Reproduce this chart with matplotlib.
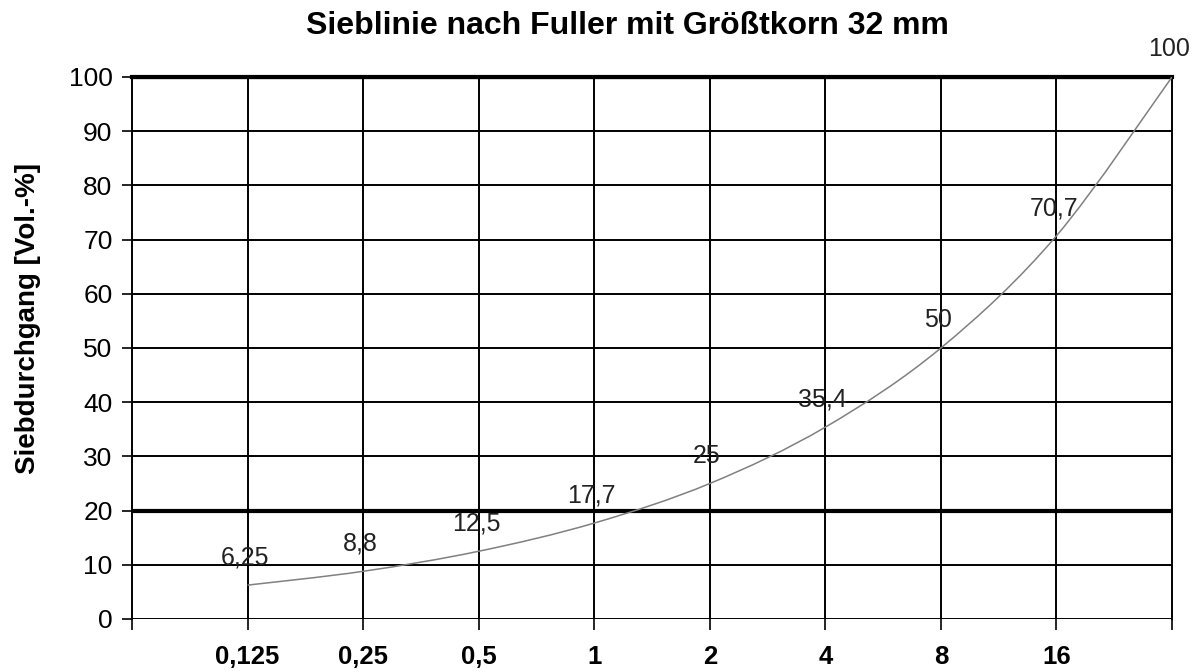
import matplotlib
matplotlib.use("Agg")
import matplotlib.pyplot as plt
import numpy as np
from matplotlib.path import Path
from matplotlib.patches import PathPatch

plt.rcParams["font.family"] = ["Liberation Sans", "DejaVu Sans"]

# Siebweiten (Kategorien) und Siebdurchgang
sizes = ["", "0,125", "0,25", "0,5", "1", "2", "4", "8", "16", ""]
passing = [6.25, 8.8, 12.5, 17.7, 25, 35.4, 50, 70.7, 100]
labels = ["6,25", "8,8", "12,5", "17,7", "25", "35,4", "50", "70,7", "100"]
yticks = list(range(0, 101, 10))

fig = plt.figure(figsize=(12.01, 6.72), dpi=100)
ax = fig.add_axes([132 / 1201, 1 - 619 / 672, 1040 / 1201, 542 / 672])

xs = np.arange(1, len(passing) + 1)
ys = np.array(passing, dtype=float)

# geglaettete Linie (Catmull-Rom -> Bezier), wie Excel "Linie glaetten"
P = np.column_stack([xs, ys])
verts = [tuple(P[0])]
codes = [Path.MOVETO]
for i in range(len(P) - 1):
    p0 = P[i - 1] if i > 0 else P[i]
    p1, p2 = P[i], P[i + 1]
    p3 = P[i + 2] if i + 2 < len(P) else P[i + 1]
    c1 = p1 + (p2 - p0) / 6
    c2 = p2 - (p3 - p1) / 6
    verts += [tuple(c1), tuple(c2), tuple(p2)]
    codes += [Path.CURVE4] * 3
ax.add_patch(PathPatch(Path(verts, codes), fc="none", ec="#808080", lw=1.1, zorder=3))

for x, y, t in zip(xs, ys, labels):
    ax.annotate(t, (x, y), xytext=(-2, 20), textcoords="offset points",
                ha="center", va="center", fontsize=18, color="#222222", zorder=4)

ax.set_xlim(0, 9)
ax.set_ylim(0, 100)
ax.set_xticks(range(len(sizes)))
ax.set_xticklabels(sizes, fontweight="bold", fontsize=18.5)
ax.set_yticks(yticks)
ax.tick_params(axis="y", length=7, width=1.2, pad=7, labelsize=19, direction="out")
ax.tick_params(axis="x", length=8, width=1.2, pad=11, direction="out")

for y in yticks:
    ax.axhline(y, color="black", lw=3.0 if y in (20, 100) else 1.4, zorder=2)
for x in range(1, 9):
    ax.axvline(x, color="black", lw=1.4, zorder=2)
for s in ax.spines.values():
    s.set_linewidth(1.4)
ax.spines["top"].set_linewidth(3.0)
ax.spines["bottom"].set_visible(False)
ax.spines["left"].set_bounds(0, 100)

fig.text(627 / 1201, 1 - 26 / 672, "Sieblinie nach Fuller mit Größtkorn 32 mm",
         ha="center", va="center", fontsize=23, fontweight="bold")
fig.text(28 / 1201, 1 - 318 / 672, "Siebdurchgang [Vol.-%]", rotation=90,
         ha="center", va="center", fontsize=20, fontweight="bold")

fig.savefig("out.png", dpi=100)
